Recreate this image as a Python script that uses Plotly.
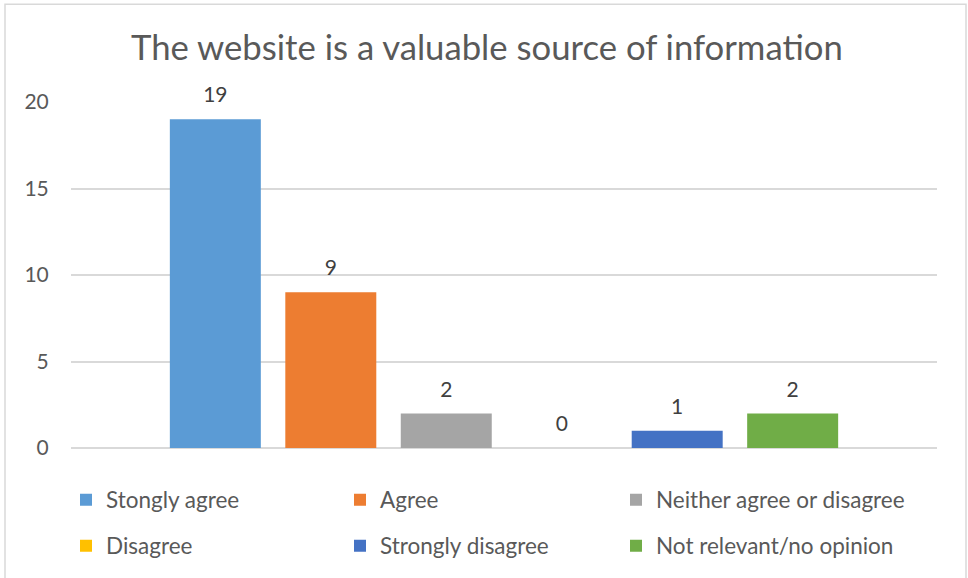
import plotly.graph_objects as go

title = "The website is a valuable source of information"
category = [""]
series_names = ["Stongly agree", "Agree", "Neither agree or disagree",
                "Disagree", "Strongly disagree", "Not relevant/no opinion"]
series_values = [19, 9, 2, 0, 1, 2]
series_colors = ["#5B9BD5", "#ED7D31", "#A5A5A5", "#FFC000", "#4472C4", "#70AD47"]
y_ticks = [0, 5, 10, 15, 20]

FONT = "Lato"
GAP = 0.2
legend_ids = ["legend", "legend2", "legend3", "legend4", "legend5", "legend6"]

fig = go.Figure()
for i, (name, val, col) in enumerate(zip(series_names, series_values, series_colors)):
    fig.add_trace(go.Bar(
        x=category, y=[val], name=name, marker=dict(color=col, line=dict(width=0)),
        offsetgroup=str(i), hoverinfo="skip", legend=legend_ids[i],
    ))
# data labels, grouped the same way as the bars
for i, (name, val) in enumerate(zip(series_names, series_values)):
    fig.add_trace(go.Scatter(
        x=category, y=[val], mode="markers+text", text=[str(val)],
        textposition="top center", offsetgroup=str(i), showlegend=False,
        marker=dict(size=17, opacity=0), cliponaxis=False, hoverinfo="skip",
        textfont=dict(family=FONT, size=21, color="#404040"),
    ))

legend_common = dict(
    orientation="h", xanchor="left", yanchor="middle",
    font=dict(family=FONT, size=22.5, color="#595959"),
    bgcolor="rgba(0,0,0,0)", itemclick=False, itemdoubleclick=False,
)
col_px = [66, 340, 616]
row_px = [500, 546]
legends = {}
for i, lid in enumerate(legend_ids):
    r, c = divmod(i, 3)
    legends[lid] = dict(x=(col_px[c] - 71) / 866, y=(449 - row_px[r]) / 347, **legend_common)

fig.update_layout(
    width=968, height=578,
    margin=dict(l=71, r=31, t=102, b=129),
    paper_bgcolor="white", plot_bgcolor="white",
    title=dict(text=title, x=0.503, xanchor="center", y=0.917, yanchor="middle",
               font=dict(family=FONT, size=34.7, color="#595959")),
    barmode="group", bargap=GAP, bargroupgap=0.212,
    scattermode="group", scattergap=GAP,
    showlegend=True,
    xaxis=dict(showticklabels=False, showgrid=False, zeroline=False, showline=False,
               range=[-0.5, 0.5]),
    yaxis=dict(range=[0, 20], tickvals=y_ticks, showgrid=True, gridcolor="#D9D9D9",
               gridwidth=1.5, zeroline=True, zerolinecolor="#D9D9D9", zerolinewidth=1.5,
               showline=False, ticks="outside", ticklen=17, tickcolor="rgba(0,0,0,0)",
               tickfont=dict(family=FONT, size=21, color="#595959")),
    shapes=[dict(type="rect", xref="paper", yref="paper",
                 x0=(5 - 71) / 866, x1=(966 - 71) / 866,
                 y0=(449 - 590) / 347, y1=(449 - 4) / 347,
                 line=dict(color="#D9D9D9", width=1.5), fillcolor="rgba(0,0,0,0)",
                 layer="below")],
    **legends,
)

fig.write_html("out.html", config={"displayModeBar": False},
               post_script="document.body.style.margin='0';document.body.style.overflow='hidden';")
